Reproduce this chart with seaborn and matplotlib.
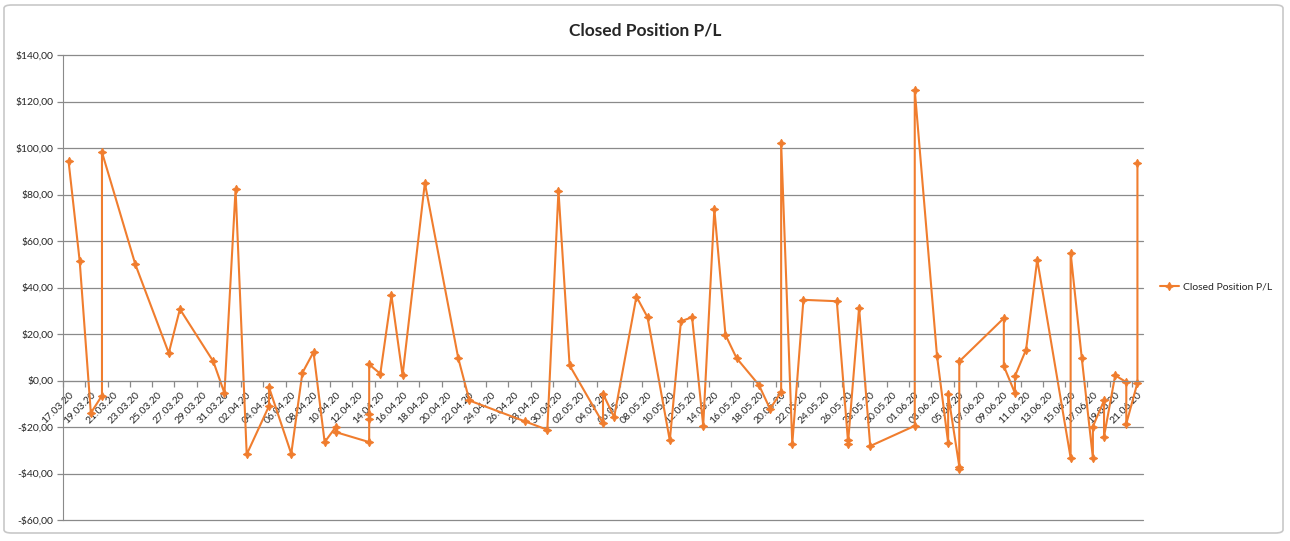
import pandas as pd
import seaborn as sns
import matplotlib.pyplot as plt
import matplotlib.dates as mdates
from matplotlib.patches import FancyBboxPatch
from matplotlib.ticker import FuncFormatter

# Closed trades, in the order they appear on the chart (same-day trades share a date)
trade_dates = [
    "17.03.20", "18.03.20", "19.03.20", "20.03.20", "20.03.20", "23.03.20", "26.03.20",
    "27.03.20", "30.03.20", "31.03.20", "01.04.20", "02.04.20", "04.04.20", "04.04.20",
    "06.04.20", "07.04.20", "08.04.20", "09.04.20", "10.04.20", "10.04.20", "13.04.20",
    "13.04.20", "13.04.20", "13.04.20", "14.04.20", "15.04.20", "16.04.20", "18.04.20",
    "21.04.20", "22.04.20", "27.04.20", "29.04.20", "30.04.20", "01.05.20", "04.05.20",
    "04.05.20", "05.05.20", "07.05.20", "08.05.20", "10.05.20", "11.05.20", "12.05.20",
    "13.05.20", "14.05.20", "15.05.20", "16.05.20", "18.05.20", "19.05.20", "20.05.20",
    "20.05.20", "21.05.20", "22.05.20", "25.05.20", "26.05.20", "26.05.20", "27.05.20",
    "28.05.20", "01.06.20", "01.06.20", "03.06.20", "04.06.20", "04.06.20", "05.06.20",
    "05.06.20", "05.06.20", "09.06.20", "09.06.20", "10.06.20", "10.06.20", "11.06.20",
    "12.06.20", "15.06.20", "15.06.20", "16.06.20", "17.06.20", "17.06.20", "18.06.20",
    "18.06.20", "19.06.20", "20.06.20", "20.06.20", "21.06.20", "21.06.20",
]
pl_values = [
    94.3, 51.3, -14.0, -6.5, 98.2, 49.9, 11.8,
    30.7, 8.2, -5.4, 82.4, -31.8, -11.0, -2.9,
    -31.5, 3.3, 12.2, -26.5, -20.0, -22.2, -26.5,
    -16.5, -14.6, 6.9, 2.9, 36.6, 2.2, 85.0,
    9.6, -8.6, -17.6, -21.2, 81.7, 6.5, -18.4,
    -5.7, -15.8, 36.1, 27.2, -25.8, 25.5, 27.2,
    -19.4, 73.7, 19.6, 9.6, -1.9, -12.2, -5.0,
    102.2, -27.2, 34.7, 34.1, -25.8, -27.2, 31.3,
    -28.2, -19.5, 125.0, 10.5, -26.8, -6.0, -37.0,
    -38.0, 8.2, 26.8, 6.2, -5.4, 1.9, 13.3,
    52.0, -33.3, 54.9, 9.7, -33.3, -19.8, -8.6,
    -24.1, 2.2, -0.7, -18.6, -1.0, 93.6,
]
y_ticks = [-60, -40, -20, 0, 20, 40, 60, 80, 100, 120, 140]
series_name = "Closed Position P/L"

ORANGE = "#F07D2E"
GRID = "#8A8A8A"
FONT = "Lato"

df = pd.DataFrame({
    "date": pd.to_datetime(trade_dates, format="%d.%m.%y"),
    "pl": pl_values,
})

sns.set_style("white")
plt.rcParams["font.family"] = [FONT, "DejaVu Sans"]

fig = plt.figure(figsize=(12.9, 5.41), dpi=100)
ax = fig.add_axes([63 / 1290, 1 - 520 / 541, 1080 / 1290, 465 / 541])

sns.lineplot(
    data=df, x="date", y="pl", ax=ax,
    sort=False, estimator=None,
    color=ORANGE, linewidth=1.5,
    marker=(4, 1, 0), markersize=6,
    markeredgecolor=ORANGE, markerfacecolor=ORANGE,
    label=series_name,
)

# spines first: moving a spine resets its axis ticks
for side in ("top", "right"):
    ax.spines[side].set_visible(False)
ax.spines["left"].set_color(GRID)
ax.spines["bottom"].set_color(GRID)
ax.spines["bottom"].set_position(("data", 0))
ax.set_xlabel("")
ax.set_ylabel("")

# date axis: one slot per day, label every second day
half_day = pd.Timedelta(hours=12)
first_day = df["date"].min()
last_day = df["date"].max()
ax.set_xlim(mdates.date2num(first_day - half_day), mdates.date2num(last_day + half_day))
label_days = pd.date_range(first_day, last_day, freq="2D")
ax.set_xticks(mdates.date2num(label_days))
ax.set_xticklabels([d.strftime("%d.%m.%y") for d in label_days],
                   rotation=45, ha="right", va="top", rotation_mode="anchor", fontsize=7.5)
ax.set_xticks(mdates.date2num(label_days - half_day), minor=True)
ax.tick_params(axis="x", which="major", bottom=True, length=0, pad=7)
ax.tick_params(axis="x", which="minor", bottom=True, length=4, width=0.9,
               color=GRID, direction="out")

ax.set_ylim(-60, 140)
ax.set_yticks(y_ticks)
ax.yaxis.set_major_formatter(FuncFormatter(
    lambda v, _: ("-$" if v < 0 else "$") + f"{abs(v):.2f}".replace(".", ",")))
ax.tick_params(axis="y", left=True, length=4, width=0.9, color=GRID, direction="out",
               labelsize=7.5, pad=3)

ax.grid(axis="y", color=GRID, linewidth=0.9)
for gl in ax.get_ygridlines():
    gl.set_clip_on(False)
ax.set_axisbelow(True)

ax.get_legend().remove()
handles, labels = ax.get_legend_handles_labels()
fig.legend(handles, labels, loc="center left", bbox_to_anchor=(1160 / 1290, 1 - 287 / 541),
           frameon=False, fontsize=7.5, handlelength=1.8, handletextpad=0.4,
           borderpad=0, borderaxespad=0)

fig.text(645 / 1290, 1 - 30 / 541, "Closed Position P/L", ha="center", va="center",
         fontsize=12.5, fontweight="bold")

# chart frame
fig.add_artist(FancyBboxPatch((4 / 1290, 8 / 541), 1279 / 1290, 528 / 541,
                              boxstyle="round,pad=0,rounding_size=0.006",
                              transform=fig.transFigure, fill=False,
                              edgecolor="#C8C8C8", linewidth=1.2))

fig.savefig("out.png", dpi=100)
plt.close(fig)
